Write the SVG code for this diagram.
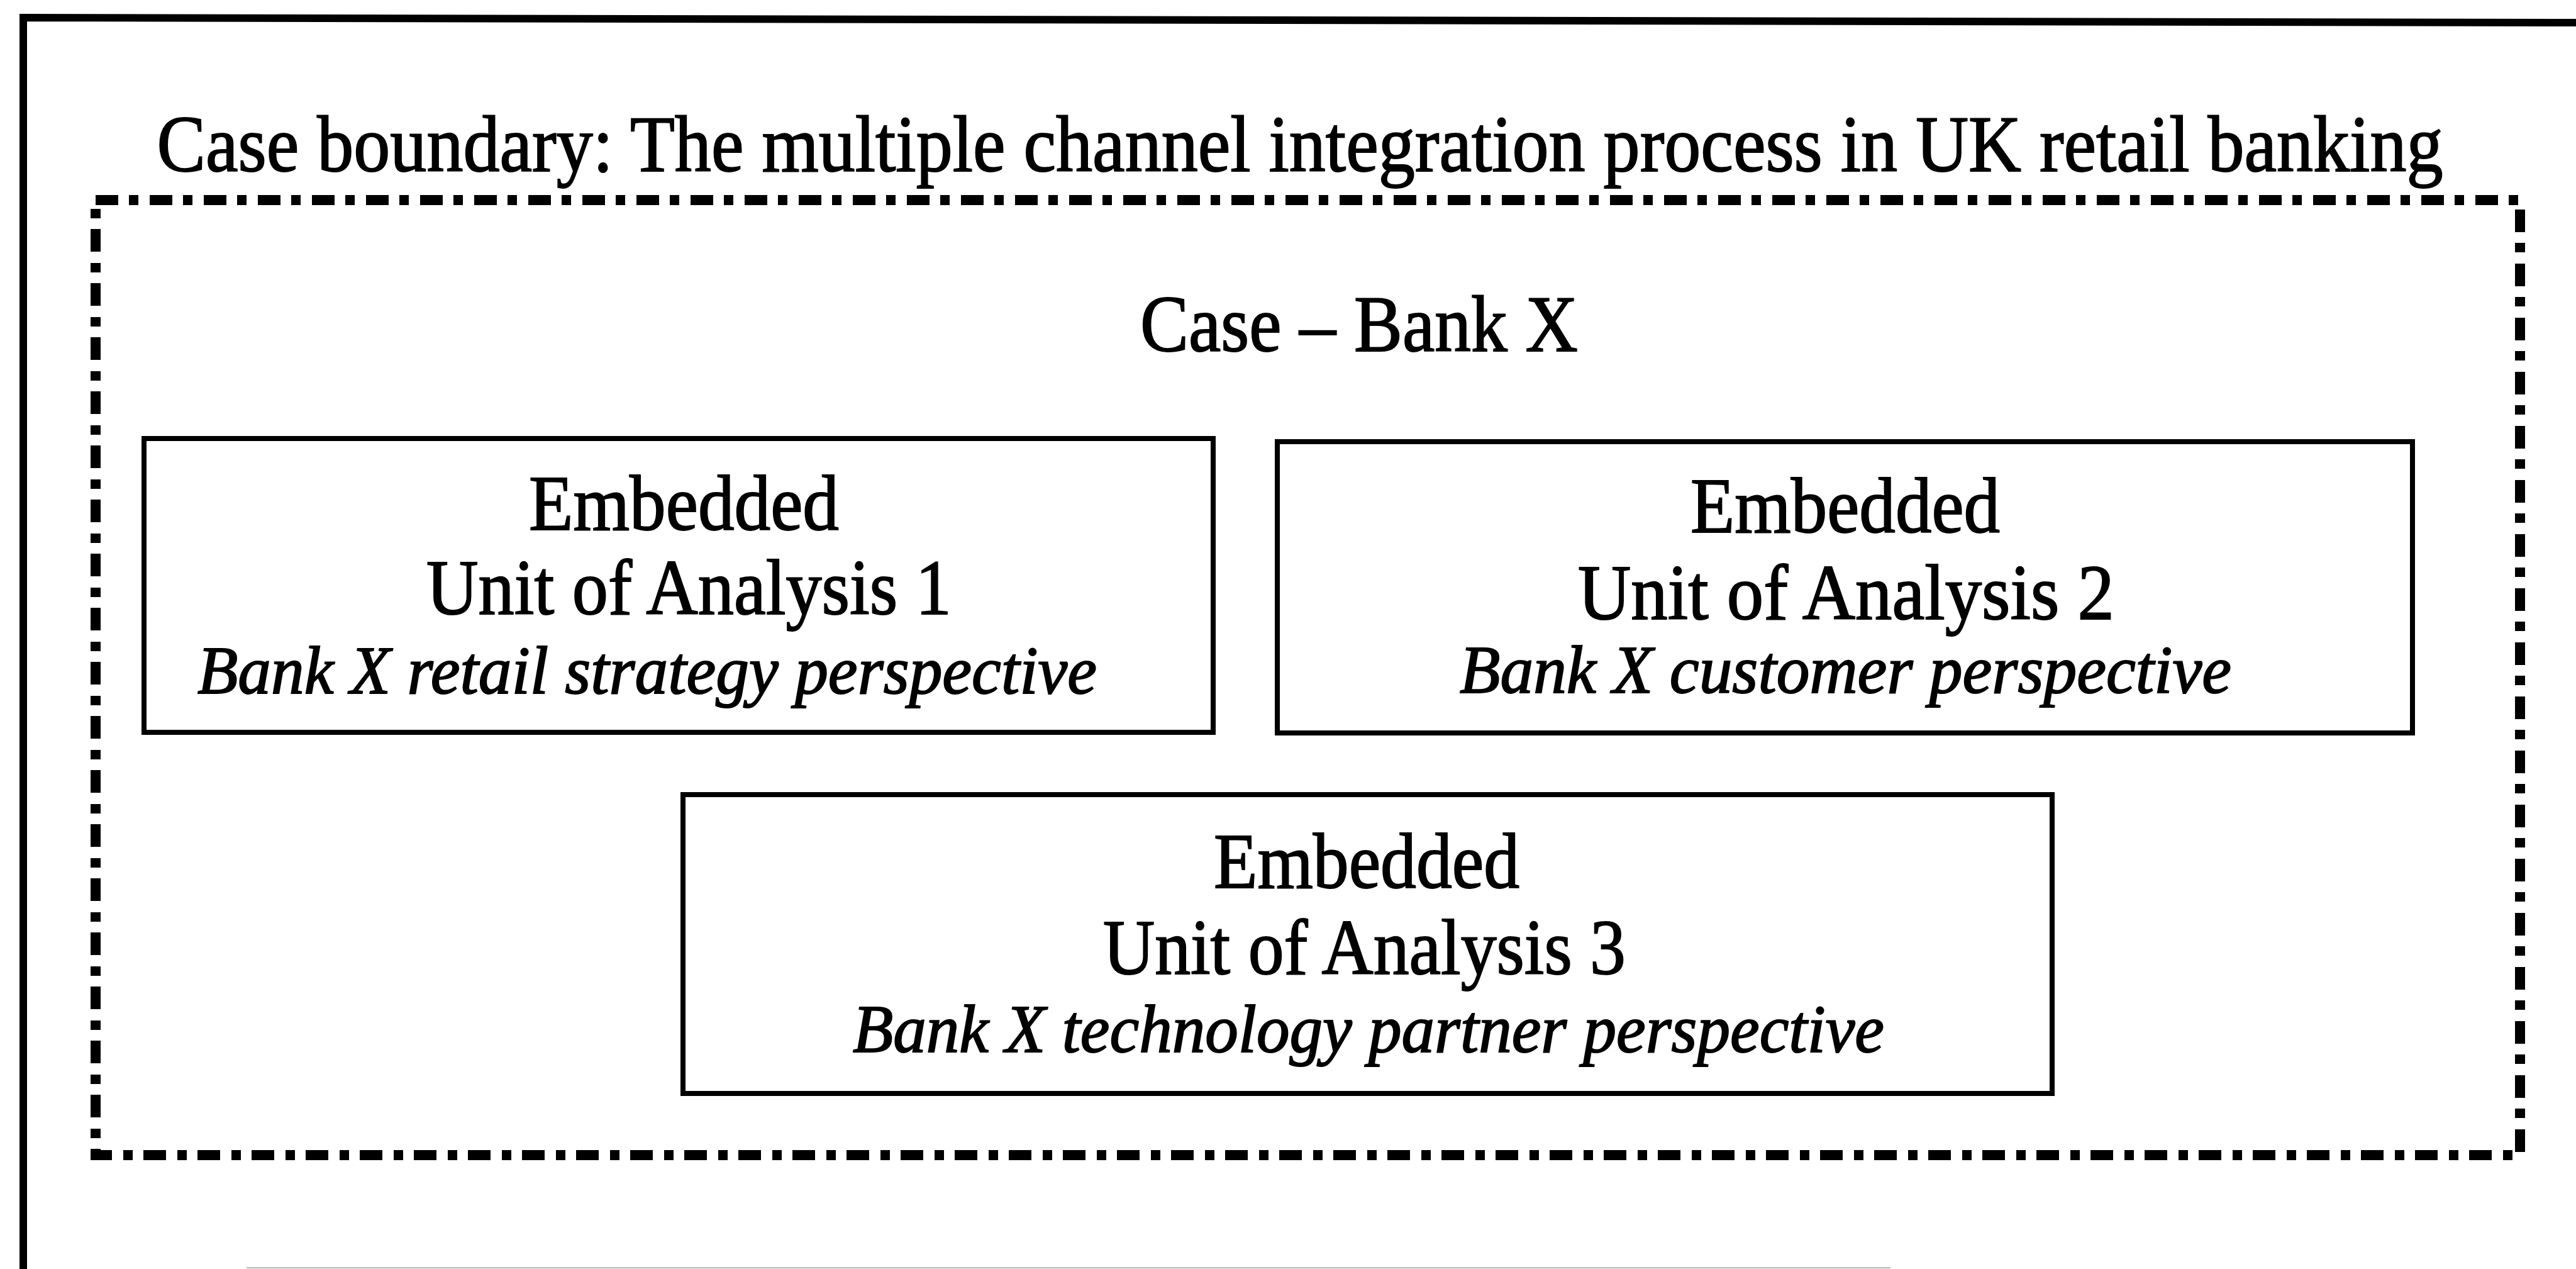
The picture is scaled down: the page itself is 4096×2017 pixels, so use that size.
<svg xmlns="http://www.w3.org/2000/svg" width="4096" height="2017" viewBox="0 0 4096 2017">
  <style>
    .frame { fill: none; stroke: #000; stroke-width: 12; }
    .boundary { fill: none; stroke: #000; stroke-width: 16; stroke-dasharray: 36 17 15 18; }
    .unit { fill: #fff; stroke: #000; stroke-width: 8; }
    .t { font-family: "Liberation Serif", "Times New Roman", serif; fill: #000; stroke: #000; stroke-width: 2; }
    .big { font-size: 127px; }
    .lbl { font-size: 125px; }
    .sub { font-size: 107px; font-style: italic; }
  </style>

  <rect x="0" y="0" width="4096" height="2017" fill="#fff"/>

  <!-- outer page frame: left and top rules, faint bottom rule -->
  <g id="page-frame">
    <path class="frame" d="M37,2017 V28 L4096,36"/>
    <line x1="392" y1="2015" x2="3006" y2="2015" stroke="#b5b5b5" stroke-width="2"/>
  </g>

  <!-- case boundary -->
  <g id="case-boundary">
    <text class="t big" x="2067" y="272" text-anchor="middle" textLength="3635" lengthAdjust="spacingAndGlyphs">Case boundary: The multiple channel integration process in UK retail banking</text>
    <rect class="boundary" x="152" y="318" width="3855" height="1518"/>
  </g>

  <!-- the case -->
  <g id="case-bank-x">
    <text class="t big" x="2161" y="558" text-anchor="middle" textLength="696" lengthAdjust="spacingAndGlyphs">Case – Bank X</text>
  </g>

  <!-- embedded units of analysis -->
  <g id="unit-1">
    <rect class="unit" x="229" y="697" width="1700" height="467"/>
    <text class="t lbl" x="841" y="842" textLength="493" lengthAdjust="spacingAndGlyphs">Embedded</text>
    <text class="t lbl" x="678" y="976" textLength="835" lengthAdjust="spacingAndGlyphs">Unit of Analysis 1</text>
    <text class="t sub" x="314" y="1102" textLength="1430" lengthAdjust="spacingAndGlyphs">Bank X retail strategy perspective</text>
  </g>

  <g id="unit-2">
    <rect class="unit" x="2031" y="702" width="1805" height="463"/>
    <text class="t lbl" x="2688" y="846" textLength="492" lengthAdjust="spacingAndGlyphs">Embedded</text>
    <text class="t lbl" x="2509" y="984" textLength="853" lengthAdjust="spacingAndGlyphs">Unit of Analysis 2</text>
    <text class="t sub" x="2321" y="1101" textLength="1227" lengthAdjust="spacingAndGlyphs">Bank X customer perspective</text>
  </g>

  <g id="unit-3">
    <rect class="unit" x="1086" y="1263" width="2177" height="475"/>
    <text class="t lbl" x="1930" y="1411" textLength="486" lengthAdjust="spacingAndGlyphs">Embedded</text>
    <text class="t lbl" x="1754" y="1548" textLength="831" lengthAdjust="spacingAndGlyphs">Unit of Analysis 3</text>
    <text class="t sub" x="1356" y="1672" textLength="1640" lengthAdjust="spacingAndGlyphs">Bank X technology partner perspective</text>
  </g>

  <g id="connectors"/>
</svg>
